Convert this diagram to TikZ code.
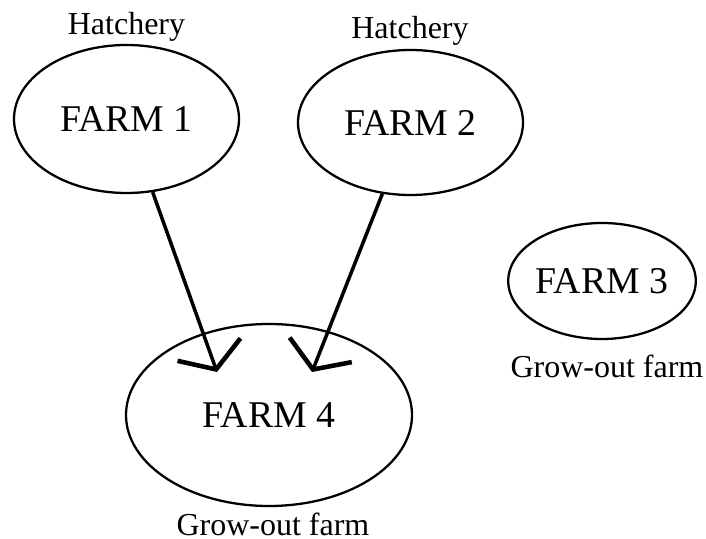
\documentclass[tikz,border=0pt]{standalone}
\usepackage{fontspec}
\setmainfont{Liberation Serif}
\usetikzlibrary{shapes.geometric,arrows.meta}

\begin{document}
\begin{tikzpicture}[
    farm/.style={draw, ellipse, line width=1.3pt, inner sep=0pt,
                 font=\fontsize{21.5}{24}\selectfont},
    tag/.style={anchor=base, inner sep=0pt, font=\fontsize{18.2}{20}\selectfont},
    flow/.style={line width=2pt,
                 -{Straight Barb[length=12pt,width=38pt,line width=2.6pt]}}
  ]
  \useasboundingbox (0,0) rectangle (14.12,-10.78);

  \node[farm, minimum width=4.5cm, minimum height=2.96cm] (farm1) at (2.53,-2.38) {FARM 1};
  \node[farm, minimum width=4.5cm, minimum height=2.9cm] (farm2) at (8.21,-2.45) {FARM 2};
  \node[farm, minimum width=3.64cm, minimum height=2.32cm] (farm3) at (12.04,-5.62) {FARM 3};
  \node[farm, minimum width=5.72cm, minimum height=3.64cm] (farm4) at (5.38,-8.30) {FARM 4};

  \node[tag] (hatch1) at (2.53,-0.70) {Hatchery};
  \node[tag] (hatch2) at (8.20,-0.78) {Hatchery};
  \node[tag] (grow3) at (12.14,-7.56) {Grow-out farm};
  \node[tag] (grow4) at (5.46,-10.70) {Grow-out farm};

  \coordinate (tip1) at (4.34,-7.44);
  \coordinate (tip2) at (6.24,-7.44);

  \draw[flow] (farm1) -- (tip1);
  \draw[flow] (farm2) -- (tip2);
\end{tikzpicture}
\end{document}
